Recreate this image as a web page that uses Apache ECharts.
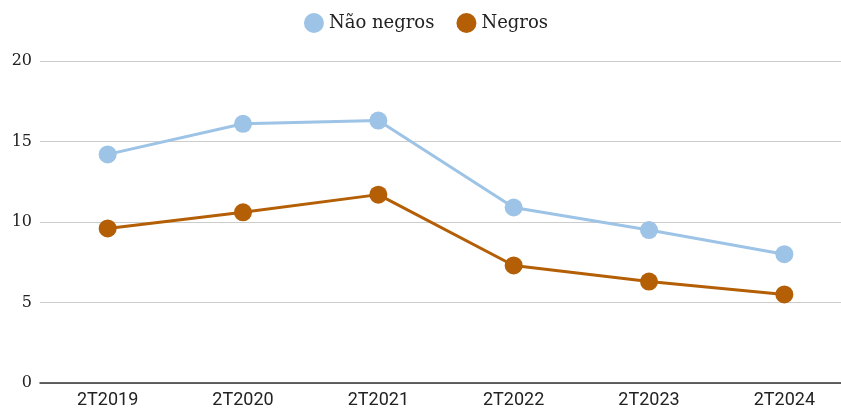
<!DOCTYPE html>
<html><head><meta charset="utf-8">
<script src="https://cdn.jsdelivr.net/npm/echarts@6/dist/echarts.min.js"></script>
<style>html,body{margin:0;padding:0;background:#fff;overflow:hidden;width:841px;height:409px}#c{width:852px;height:409px}</style>
</head><body><div id="c"></div>
<script>
const categories = ['2T2019','2T2020','2T2021','2T2022','2T2023','2T2024'];
const naoNegros = [14.2, 16.1, 16.3, 10.9, 9.5, 8.0];
const negros = [9.6, 10.6, 11.7, 7.3, 6.3, 5.5];
const seriesNames = ['Não negros', 'Negros'];
const yTicks = [0, 5, 10, 15, 20];

const chart = echarts.init(document.getElementById('c'), null, {renderer:'canvas'});
chart.setOption({
  animation:false,
  backgroundColor:'#fff',
  color:['#9dc3e6','#b45f06'],
  legend:{
    top:8, left:'center', icon:'circle', itemWidth:20, itemHeight:20, itemGap:22,
    textStyle:{fontFamily:'DejaVu Serif', fontSize:18, color:'#222'},
    data:seriesNames
  },
  grid:{left:40, right:0, top:61, bottom:25, containLabel:false},
  xAxis:{
    type:'category', data:categories, boundaryGap:true,
    axisLine:{lineStyle:{color:'#333', width:1.5}},
    axisTick:{show:false},
    axisLabel:{fontFamily:'Roboto', fontSize:18, color:'#222', margin:8}
  },
  yAxis:{
    type:'value', min:yTicks[0], max:yTicks[yTicks.length-1], interval:5,
    axisLine:{show:false}, axisTick:{show:false},
    splitLine:{lineStyle:{color:'#cccccc', width:1}},
    axisLabel:{fontFamily:'DejaVu Serif', fontSize:16, color:'#222', margin:8}
  },
  series:[
    {name:seriesNames[0], type:'line', data:naoNegros, symbol:'circle', symbolSize:18,
     lineStyle:{width:3}},
    {name:seriesNames[1], type:'line', data:negros, symbol:'circle', symbolSize:18,
     lineStyle:{width:3}}
  ]
});
</script></body></html>
